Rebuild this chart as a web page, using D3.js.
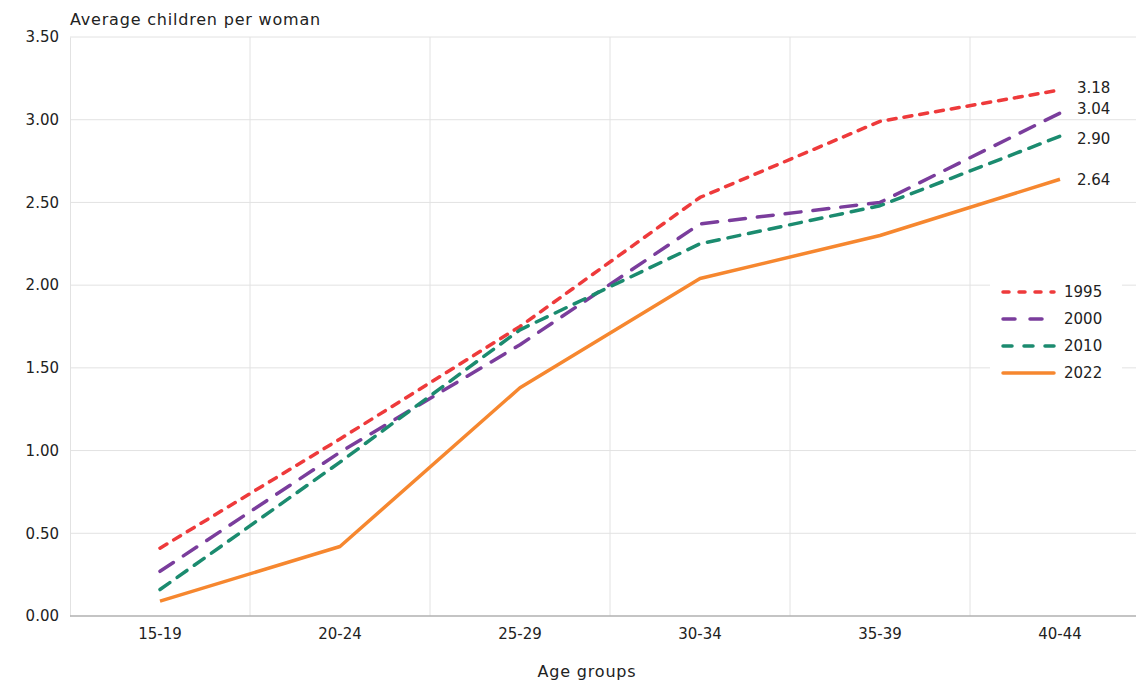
<!DOCTYPE html>
<html>
<head>
<meta charset="utf-8">
<script src="https://cdn.jsdelivr.net/npm/d3@7"></script>
<style>
  html, body { margin: 0; padding: 0; background: #fff; }
  svg { display: block; font-family: "DejaVu Sans", "Open Sans", sans-serif; }
</style>
</head>
<body>
<svg id="chart" width="1136" height="682"></svg>
<script>
// Age groups on the x axis
const ageGroups = ["15-19", "20-24", "25-29", "30-34", "35-39", "40-44"];

// Average number of children per woman, by survey year
const years = ["1995", "2000", "2010", "2022"];
const values1995 = [0.41, 1.07, 1.75, 2.53, 2.99, 3.18];
const values2000 = [0.27, 0.99, 1.64, 2.37, 2.50, 3.04];
const values2010 = [0.16, 0.93, 1.73, 2.25, 2.48, 2.90];
const values2022 = [0.09, 0.42, 1.38, 2.04, 2.30, 2.64];

// Y axis ticks
const yTicks = [0, 0.5, 1, 1.5, 2, 2.5, 3, 3.5];

const seriesValues = [values1995, values2000, values2010, values2022];
const colors = ["#ee3a3b", "#7a3d9c", "#1b8b6f", "#f6872f"];
const dashes = ["8 8", "16 12", "12 9", null];
const legendDashes = ["6 10", "12 15", "9 12", null];
const labelNudge = [-2, -4, 2, 0];
const FONT = 15;

const svg = d3.select("#chart");

const x = d3.scaleBand().domain(ageGroups).range([70, 1150]).padding(0);
const y = d3.scaleLinear().domain([0, 3.5]).range([616, 37]);

// Horizontal grid lines
svg.append("g")
  .selectAll("line")
  .data(yTicks.filter(d => d > 0))
  .join("line")
  .attr("x1", 70).attr("x2", 1136)
  .attr("y1", d => y(d)).attr("y2", d => y(d))
  .attr("stroke", "#e2e2e2").attr("stroke-width", 1);

// Vertical grid lines at band boundaries
svg.append("g")
  .selectAll("line")
  .data(ageGroups.slice(1))
  .join("line")
  .attr("x1", d => x(d)).attr("x2", d => x(d))
  .attr("y1", y(3.5)).attr("y2", y(0))
  .attr("stroke", "#e2e2e2").attr("stroke-width", 1);

// Y axis labels
const yAxis = d3.axisLeft(y).tickValues(yTicks).tickFormat(d3.format(".2f")).tickSize(0).tickPadding(11);
const gy = svg.append("g").attr("transform", "translate(70,0)").call(yAxis);
gy.select(".domain").attr("stroke", "#e2e2e2");
gy.selectAll("text").attr("font-size", FONT).attr("fill", "#222").attr("font-family", "DejaVu Sans");

// X axis
const xAxis = d3.axisBottom(x).tickSize(0).tickPadding(12);
const gx = svg.append("g").attr("transform", `translate(0,${y(0)})`).call(xAxis);
gx.select(".domain").attr("stroke", "#b0b0b0").attr("stroke-width", 1.5).attr("d", "M70,0H1136");
gx.selectAll("text").attr("font-size", FONT).attr("fill", "#222").attr("font-family", "DejaVu Sans");

// Axis titles
svg.append("text")
  .attr("x", 70).attr("y", 25)
  .attr("font-size", 16).attr("letter-spacing", 0.8).attr("fill", "#222")
  .text("Average children per woman");

svg.append("text")
  .attr("x", 587).attr("y", 677)
  .attr("text-anchor", "middle")
  .attr("font-size", 16).attr("letter-spacing", 0.8).attr("fill", "#222")
  .text("Age groups");

// Series lines
const line = d3.line()
  .x((d, i) => x(ageGroups[i]) + x.bandwidth() / 2)
  .y(d => y(d));

const gLines = svg.append("g");
seriesValues.forEach((vals, k) => {
  gLines.append("path")
    .datum(vals)
    .attr("d", line)
    .attr("fill", "none")
    .attr("stroke", colors[k])
    .attr("stroke-width", 3.5)
    .attr("stroke-linecap", dashes[k] ? "round" : "butt")
    .attr("stroke-linejoin", "round")
    .attr("stroke-dasharray", dashes[k]);
});

// End-of-line value labels
const lastGroup = ageGroups[ageGroups.length - 1];
seriesValues.forEach((vals, k) => {
  const v = vals[vals.length - 1];
  svg.append("text")
    .attr("x", x(lastGroup) + x.bandwidth() / 2 + 17)
    .attr("y", y(v) + labelNudge[k])
    .attr("dy", "0.35em")
    .attr("font-size", FONT).attr("fill", "#222")
    .text(d3.format(".2f")(v));
});

// Legend
const legend = svg.append("g").attr("transform", "translate(990,278)");
legend.append("rect")
  .attr("x", 0).attr("y", 0).attr("width", 132).attr("height", 110)
  .attr("fill", "#fff");
years.forEach((yr, k) => {
  const row = legend.append("g").attr("transform", `translate(0,${14 + k * 27})`);
  row.append("line")
    .attr("x1", 13).attr("x2", 64).attr("y1", 0).attr("y2", 0)
    .attr("stroke", colors[k]).attr("stroke-width", 3.5)
    .attr("stroke-linecap", "round")
    .attr("stroke-dasharray", legendDashes[k]);
  row.append("text")
    .attr("x", 74).attr("y", 0).attr("dy", "0.35em")
    .attr("font-size", FONT).attr("fill", "#222")
    .text(yr);
});
</script>
</body>
</html>
